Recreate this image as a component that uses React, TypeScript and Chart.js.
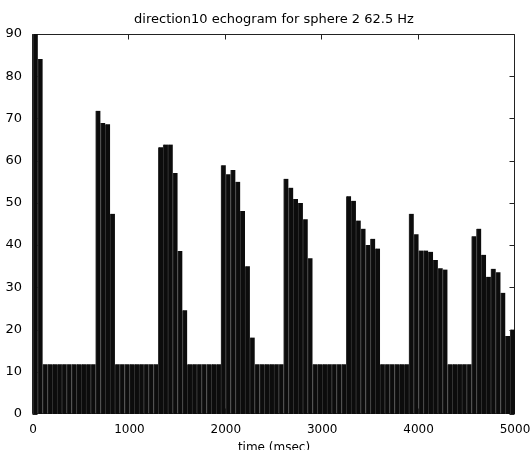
import { useEffect, useRef } from "react";
import { Chart, registerables } from "chart.js";

Chart.register(...registerables);

const TITLE = "direction10 echogram for sphere 2 62.5 Hz";
const X_TITLE = "time (msec)";
const BIN_MS = 50;

// echogram level per 50 ms bin (0 .. 5000 msec)
const echoLevels = [
  90, 84.1,
  11.8, 11.8, 11.8, 11.8, 11.8, 11.8, 11.8, 11.8, 11.8, 11.8, 11.8,
  71.8, 68.9, 68.6, 47.4,
  11.8, 11.8, 11.8, 11.8, 11.8, 11.8, 11.8, 11.8, 11.8,
  63.2, 63.8, 63.8, 57.1, 38.6, 24.6,
  11.8, 11.8, 11.8, 11.8, 11.8, 11.8, 11.8,
  58.9, 56.8, 57.8, 55.0, 48.1, 35.0, 18.1,
  11.8, 11.8, 11.8, 11.8, 11.8, 11.8,
  55.7, 53.6, 50.9, 50.0, 46.1, 36.9,
  11.8, 11.8, 11.8, 11.8, 11.8, 11.8, 11.8,
  51.6, 50.5, 45.8, 43.9, 40.0, 41.5, 39.2,
  11.8, 11.8, 11.8, 11.8, 11.8, 11.8,
  47.4, 42.6, 38.7, 38.7, 38.4, 36.5, 34.5, 34.2,
  11.8, 11.8, 11.8, 11.8, 11.8,
  42.1, 43.9, 37.7, 32.5, 34.4, 33.6, 28.7, 18.5, 20.0,
];

const binStartMs = echoLevels.map((_, i) => String(i * BIN_MS));
const xTickValues = [0, 1000, 2000, 3000, 4000, 5000];
const yTickValues = [0, 10, 20, 30, 40, 50, 60, 70, 80, 90];
const X_MIN = 0;
const X_MAX = 5000;
const Y_MIN = 0;
const Y_MAX = 90;

const FONT = "'DejaVu Sans', 'Liberation Sans', sans-serif";

const framePlugin = {
  id: "matlabFrame",
  beforeDatasetsDraw(chart: any) {
    const { ctx, chartArea } = chart;
    const { left, right, top, bottom } = chartArea;
    const xs = chart.scales.xt;
    const ys = chart.scales.y;
    const L = Math.round(left) - 0.5;
    const R = Math.round(right) - 0.5;
    const T = Math.round(top) + 0.5;
    const B = Math.round(bottom) - 0.5;
    ctx.save();
    ctx.strokeStyle = "#222";
    ctx.lineWidth = 1;
    ctx.beginPath();
    ctx.rect(L, T, R - L, B - T);
    const tl = 5;
    xTickValues.forEach((v) => {
      const px = Math.round(xs.getPixelForValue(v)) - 0.5;
      ctx.moveTo(px, T);
      ctx.lineTo(px, T + tl);
      ctx.moveTo(px, B);
      ctx.lineTo(px, B - tl);
    });
    yTickValues.forEach((v) => {
      const py = Math.round(ys.getPixelForValue(v)) + 0.5;
      ctx.moveTo(L, py);
      ctx.lineTo(L + tl, py);
      ctx.moveTo(R, py);
      ctx.lineTo(R - tl, py);
    });
    ctx.stroke();
    ctx.restore();
  },
};

export default function App() {
  const ref = useRef<HTMLCanvasElement | null>(null);

  useEffect(() => {
    if (!ref.current) return;
    const chart = new Chart(ref.current, {
      type: "bar",
      data: {
        labels: binStartMs,
        datasets: [
          {
            data: echoLevels,
            backgroundColor: "#0c0c0c",
            borderColor: "#333",
            borderWidth: { left: 1, top: 0, right: 0, bottom: 0 },
            categoryPercentage: 1,
            barPercentage: 1,
          },
        ],
      },
      options: {
        animation: false,
        responsive: false,
        devicePixelRatio: 1,
        layout: { padding: { left: 0, right: 17, top: 0, bottom: 0 } },
        plugins: {
          legend: { display: false },
          tooltip: { enabled: false },
          title: {
            display: true,
            text: TITLE,
            fullSize: false,
            color: "#000",
            font: { family: FONT, size: 13, weight: "normal", lineHeight: 1.2 },
            padding: { top: 11.5, bottom: 6.9 },
          },
        },
        scales: {
          x: {
            type: "category",
            display: false,
            offset: true,
          },
          xt: {
            type: "linear",
            position: "bottom",
            min: X_MIN,
            max: X_MAX,
            offset: false,
            grid: { display: false, offset: false },
            border: { display: false },
            ticks: {
              stepSize: 1000,
              autoSkip: false,
              maxRotation: 0,
              color: "#000",
              padding: 1,
              font: { family: FONT, size: 12 },
              callback: (v: any) => String(v),
            },
            title: {
              display: true,
              text: X_TITLE,
              color: "#000",
              font: { family: FONT, size: 12, lineHeight: 1.2 },
              padding: { top: 0, bottom: 5 },
            },
            afterFit(s: any) {
              s.height = 46;
            },
          },
          y: {
            type: "linear",
            min: Y_MIN,
            max: Y_MAX,
            grid: { display: false },
            border: { display: false },
            ticks: {
              stepSize: 10,
              color: "#000",
              padding: 3,
              font: { family: FONT, size: 13 },
            },
            afterFit(s: any) {
              s.width = 33;
            },
          },
        },
      },
      plugins: [framePlugin],
    });
    return () => chart.destroy();
  }, []);

  return (
    <div
      style={{
        position: "absolute",
        left: 0,
        top: 0,
        width: 532,
        height: 450,
        overflow: "hidden",
        background: "#fff",
      }}
    >
      <canvas ref={ref} width={532} height={460} style={{ display: "block" }} />
    </div>
  );
}
